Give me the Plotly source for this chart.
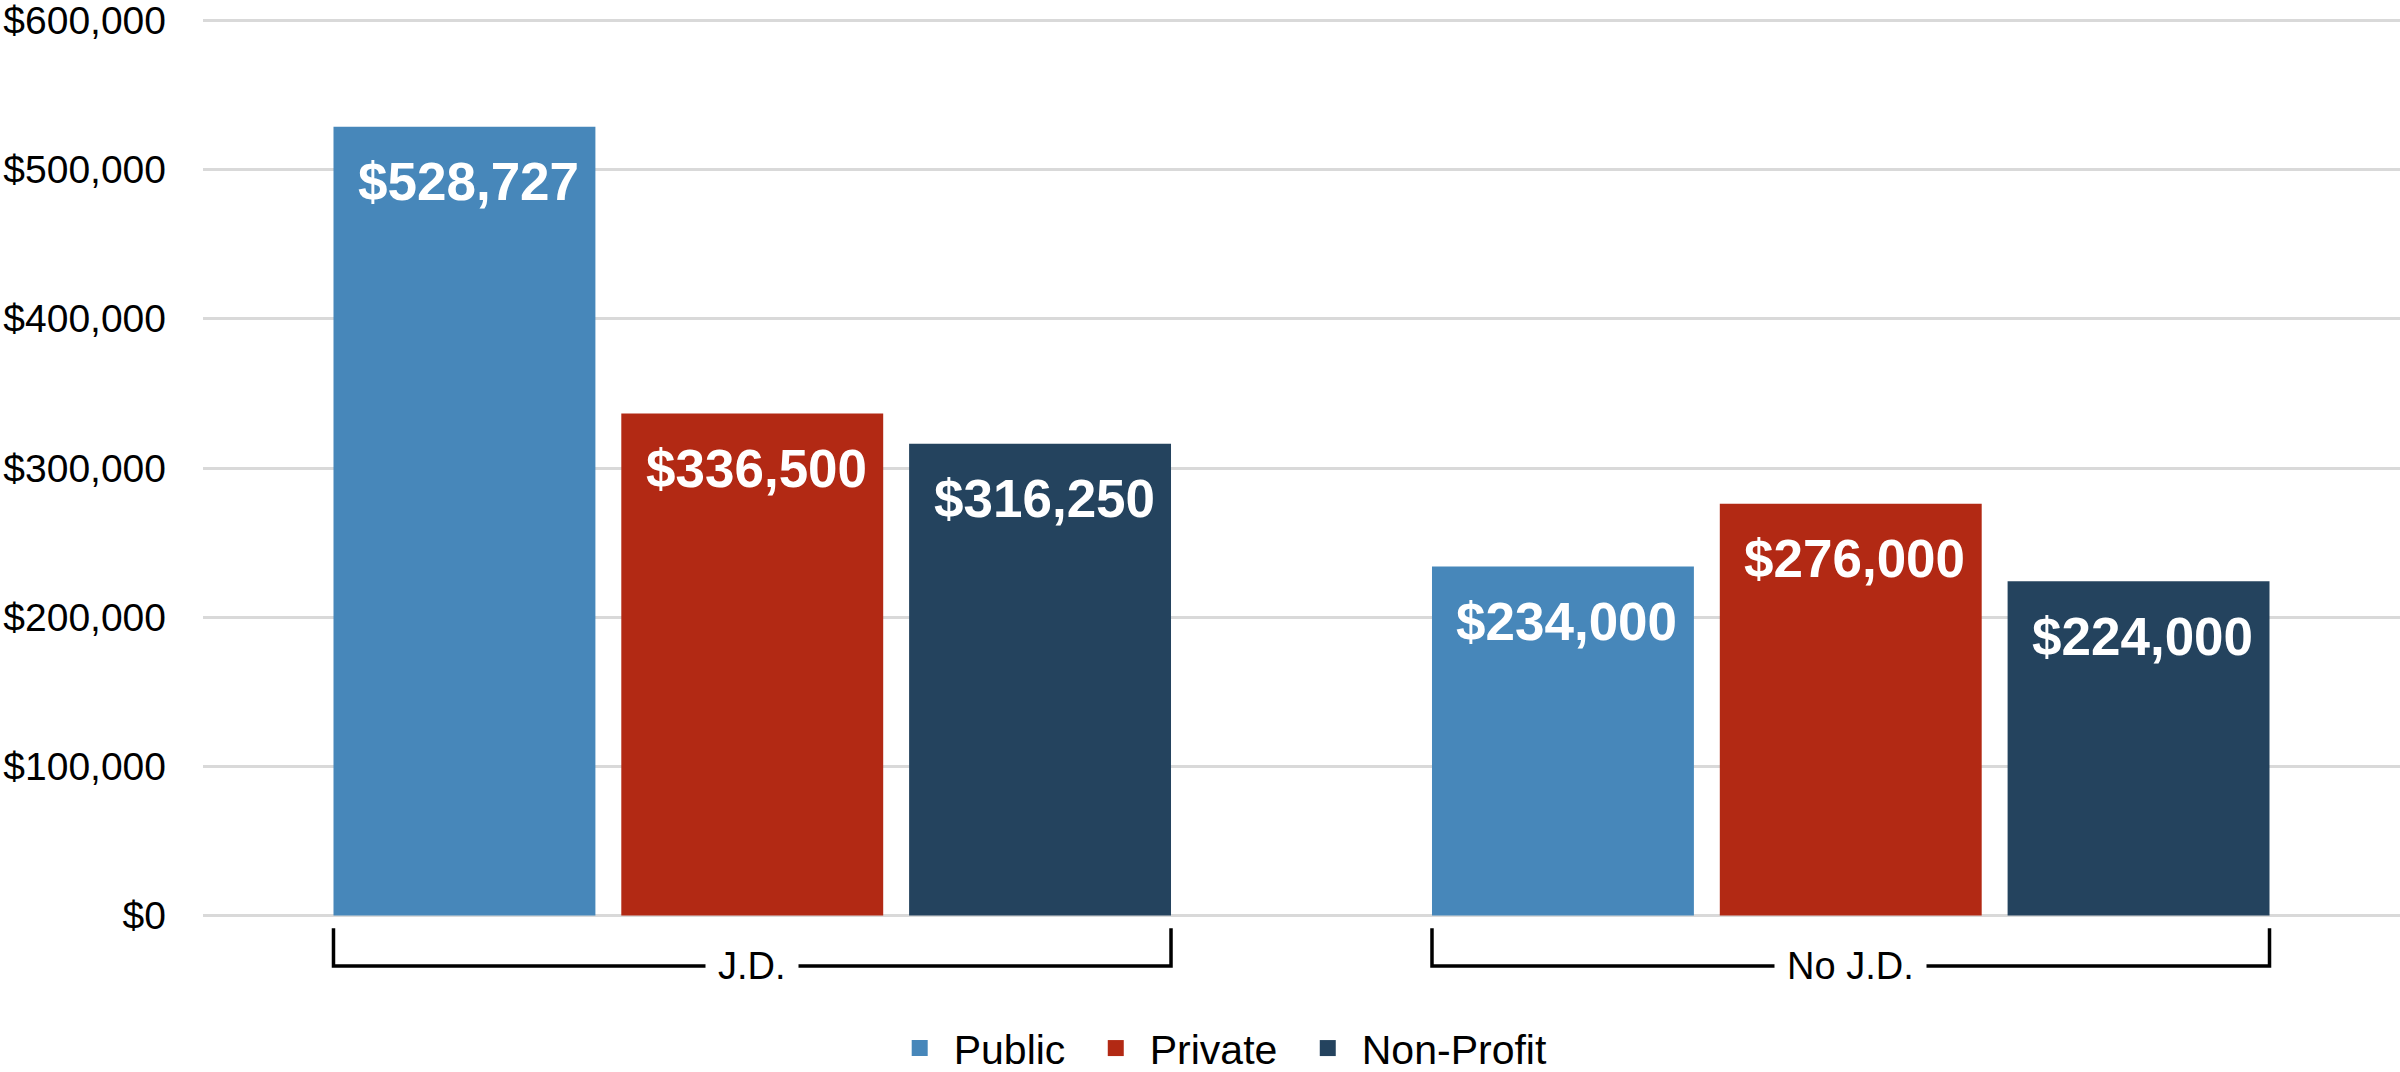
import plotly.graph_objects as go

categories = ["J.D.", "No J.D."]
series_names = ["Public", "Private", "Non-Profit"]
public_vals = [528727, 234000]
private_vals = [336500, 276000]
nonprofit_vals = [316250, 224000]
y_ticks = [0, 100000, 200000, 300000, 400000, 500000, 600000]
y_tick_labels = ["$0", "$100,000", "$200,000", "$300,000", "$400,000", "$500,000", "$600,000"]

colors = ["#4787BA", "#B22914", "#24435E"]
series_vals = [public_vals, private_vals, nonprofit_vals]

FONT = "Liberation Sans, Arial, sans-serif"
BARGAP = 0.214
BARGROUPGAP = 0.09
slot = (1 - BARGAP) / 3

fig = go.Figure()
for name, vals, c in zip(series_names, series_vals, colors):
    fig.add_trace(go.Bar(name=name, x=categories, y=vals, marker_color=c,
                         marker_line_width=0, hoverinfo="skip", showlegend=False))
# legend entries with larger square swatches
for k, (name, c) in enumerate(zip(series_names, colors)):
    pad = "\u00a0" if k < len(series_names) - 1 else ""
    fig.add_trace(go.Scatter(name=name + pad, x=[None], y=[None], mode="markers",
                             marker=dict(symbol="square", size=16, color=c),
                             showlegend=True, hoverinfo="skip"))

annotations = []
for j, vals in enumerate(series_vals):
    for i, v in enumerate(vals):
        annotations.append(dict(
            x=i + (j - 1) * slot, y=v, xref="x", yref="y",
            text=f"<b>${v:,}</b>", showarrow=False,
            font=dict(family=FONT, size=53, color="white"),
            yanchor="middle", yshift=-55, xshift=4))

shapes = []
y_top = -0.009
y_bot = -0.051
for i, cat in enumerate(categories):
    x0 = i - 1.5 * slot + slot * BARGROUPGAP / 2
    x1 = i + 1.5 * slot - slot * BARGROUPGAP / 2
    shapes.append(dict(type="path", xref="x", yref="paper",
                       path=f"M {x0},{y_top} L {x0},{y_bot} L {x1},{y_bot} L {x1},{y_top}",
                       line=dict(color="black", width=3.5)))
    annotations.append(dict(x=i, y=y_bot, xref="x", yref="paper", text=cat,
                            showarrow=False, bgcolor="white", borderpad=12,
                            font=dict(family=FONT, size=38, color="black"),
                            yanchor="middle", xanchor="center"))

fig.update_layout(
    width=2400, height=1072,
    margin=dict(l=203, r=0, t=16, b=152),
    plot_bgcolor="white", paper_bgcolor="white",
    barmode="group", bargap=BARGAP, bargroupgap=BARGROUPGAP,
    font=dict(family=FONT, size=38, color="black"),
    xaxis=dict(showticklabels=False, showgrid=False, zeroline=False, showline=False,
               ticks=""),
    yaxis=dict(range=[-3000, 603000], tickvals=y_ticks, ticktext=y_tick_labels,
               showgrid=True, gridcolor="#D9D9D9", gridwidth=3,
               zeroline=False, showline=False, ticks="", ticklabelstandoff=36,
               ticklabeloverflow="allow",
               tickfont=dict(family=FONT, size=39, color="black")),
    legend=dict(orientation="h", xref="container", yref="container",
                x=0.508, xanchor="center", y=0.022, yanchor="middle",
                font=dict(family=FONT, size=41, color="black"),
                itemwidth=58, itemsizing="trace", tracegroupgap=0),
    annotations=annotations, shapes=shapes,
    showlegend=True,
)

fig.write_html("out.html")
